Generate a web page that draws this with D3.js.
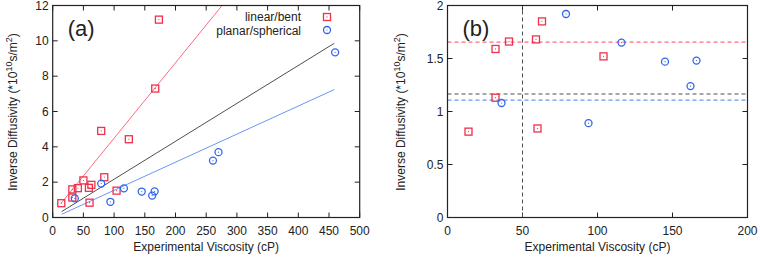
<!DOCTYPE html>
<html>
<head>
<meta charset="utf-8">
<script src="https://cdn.jsdelivr.net/npm/d3@7"></script>
<style>
  body { margin: 0; background: #fff; }
  svg text { font-family: "Liberation Sans", Arial, sans-serif; fill: #222; }
</style>
</head>
<body>
<div id="chart"></div>
<script>
// linear/bent molecules: [viscosity cP, inverse diffusivity]
const linearBent = [
  [14, 0.81], [32, 1.59], [41, 1.66], [59, 1.68], [63, 1.85], [32, 1.13], [60, 0.84],
  [104, 1.52], [50, 2.1], [84, 2.28], [79, 4.9], [124, 4.43], [167, 7.3], [173, 11.2]
];
// planar/spherical molecules
const planarSpherical = [
  [79, 1.92], [116, 1.65], [145, 1.47], [166, 1.48], [162, 1.24], [36, 1.08], [94, 0.89],
  [261, 3.22], [270, 3.7], [460, 9.35]
];
// fit lines in panel (a): slope, intercept, x range
const fits = [
  { name: "red", slope: 0.0427, intercept: 0.22, x0: 13.5, x1: 290 },
  { name: "black", slope: 0.02146, intercept: 0.02, x0: 14.6, x1: 458.6 },
  { name: "blue", slope: 0.0159, intercept: -0.05, x0: 14.6, x1: 458.6 }
];
// dashed reference lines in panel (b)
const hLines = [
  { name: "red", y: 1.655 },
  { name: "black", y: 1.165 },
  { name: "blue", y: 1.108 }
];
const vLine = 50;

const xTicksA = d3.range(0, 501, 50);
const yTicksA = d3.range(0, 13, 2);
const xTicksB = d3.range(0, 201, 50);
const yTicksB = [0, 0.5, 1, 1.5, 2];

const colors = {
  red: "#f0304c", redLine: "#ff6a80",
  blue: "#3366ee", blueLine: "#6a96f4",
  black: "#505050"
};

const svg = d3.select("#chart").append("svg")
  .attr("width", 760).attr("height", 258);

function panel(opts) {
  const x = d3.scaleLinear().domain(opts.xDomain).range(opts.xRange);
  const y = d3.scaleLinear().domain(opts.yDomain).range([217.5, 5.5]);
  const g = svg.append("g");
  const clipId = "clip" + opts.label;
  g.append("clipPath").attr("id", clipId).append("rect")
    .attr("x", opts.xRange[0]).attr("y", 5.5)
    .attr("width", opts.xRange[1] - opts.xRange[0]).attr("height", 212);

  // frame ticks: inward on all four sides
  const tl = 5;
  const xt = g.append("g").attr("stroke", "#222").attr("stroke-width", 1);
  opts.xTicks.forEach(t => {
    xt.append("line").attr("x1", x(t)).attr("x2", x(t)).attr("y1", 217.5).attr("y2", 217.5 - tl);
    xt.append("line").attr("x1", x(t)).attr("x2", x(t)).attr("y1", 5.5).attr("y2", 5.5 + tl);
  });
  opts.yTicks.forEach(t => {
    xt.append("line").attr("x1", opts.xRange[0]).attr("x2", opts.xRange[0] + tl).attr("y1", y(t)).attr("y2", y(t));
    xt.append("line").attr("x1", opts.xRange[1]).attr("x2", opts.xRange[1] - tl).attr("y1", y(t)).attr("y2", y(t));
  });

  g.selectAll(".xl").data(opts.xTicks).enter().append("text")
    .attr("x", d => x(d)).attr("y", 235).attr("text-anchor", "middle")
    .style("font-size", "12px").text(d => d);
  g.selectAll(".yl").data(opts.yTicks).enter().append("text")
    .attr("x", opts.xRange[0] - 4).attr("y", d => y(d) + 4.3).attr("text-anchor", "end")
    .style("font-size", "12px").text(d => d);

  g.append("text")
    .attr("x", (opts.xRange[0] + opts.xRange[1]) / 2).attr("y", 251)
    .attr("text-anchor", "middle").style("font-size", "12px")
    .text("Experimental Viscosity (cP)");

  const yt = g.append("text")
    .attr("transform", `translate(${opts.yTitleX},112) rotate(-90)`)
    .attr("text-anchor", "middle").style("font-size", "12px");
  yt.append("tspan").text("Inverse Diffusivity (*10");
  yt.append("tspan").attr("dy", -5).style("font-size", "9px").text("10");
  yt.append("tspan").attr("dy", 5).text("s/m");
  yt.append("tspan").attr("dy", -5).style("font-size", "9px").text("2");
  yt.append("tspan").attr("dy", 5).text(")");

  g.append("text")
    .attr("x", opts.xRange[0] + 15).attr("y", 36)
    .style("font-size", "22px").text("(" + opts.label + ")");

  return { g, x, y, clipId };
}

function squares(g, data, x, y) {
  g.selectAll(null).data(data).enter().append("rect")
    .attr("x", d => x(d[0]) - 3.5).attr("y", d => y(d[1]) - 3.5)
    .attr("width", 7).attr("height", 7)
    .attr("fill", "none").attr("stroke", colors.red).attr("stroke-width", 1.3);
  g.selectAll(null).data(data).enter().append("rect")
    .attr("x", d => x(d[0]) - 0.5).attr("y", d => y(d[1]) - 0.5)
    .attr("width", 1).attr("height", 1).attr("fill", colors.red);
}
function circles(g, data, x, y) {
  g.selectAll(null).data(data).enter().append("circle")
    .attr("cx", d => x(d[0])).attr("cy", d => y(d[1])).attr("r", 3.5)
    .attr("fill", "none").attr("stroke", colors.blue).attr("stroke-width", 1.3);
  g.selectAll(null).data(data).enter().append("circle")
    .attr("cx", d => x(d[0])).attr("cy", d => y(d[1])).attr("r", 0.6)
    .attr("fill", colors.blue);
}

// Panel (a)
const a = panel({ label: "a", xDomain: [0, 500], xRange: [52.7, 359.7], yDomain: [0, 12],
  xTicks: xTicksA, yTicks: yTicksA, yTitleX: 17 });
const lineColor = { red: colors.redLine, black: colors.black, blue: colors.blueLine };
const fitG = a.g.append("g").attr("clip-path", `url(#${a.clipId})`);
fits.forEach(f => {
  fitG.append("line")
    .attr("x1", a.x(f.x0)).attr("y1", a.y(f.slope * f.x0 + f.intercept))
    .attr("x2", a.x(f.x1)).attr("y2", a.y(f.slope * f.x1 + f.intercept))
    .attr("stroke", lineColor[f.name]).attr("stroke-width", 1);
});
squares(a.g, linearBent, a.x, a.y);
circles(a.g, planarSpherical, a.x, a.y);

// legend
a.g.append("text").attr("x", 301).attr("y", 21).attr("text-anchor", "end")
  .style("font-size", "12px").text("linear/bent");
a.g.append("text").attr("x", 301).attr("y", 35).attr("text-anchor", "end")
  .style("font-size", "12px").text("planar/spherical");
a.g.append("rect").attr("x", 323.5).attr("y", 13.5).attr("width", 7).attr("height", 7)
  .attr("fill", "none").attr("stroke", colors.red).attr("stroke-width", 1.3);
a.g.append("rect").attr("x", 326.5).attr("y", 16.5).attr("width", 1).attr("height", 1).attr("fill", colors.red);
a.g.append("circle").attr("cx", 327).attr("cy", 30).attr("r", 3.5)
  .attr("fill", "none").attr("stroke", colors.blue).attr("stroke-width", 1.3);
a.g.append("circle").attr("cx", 327).attr("cy", 30).attr("r", 0.6).attr("fill", colors.blue);

// Panel (b)
const b = panel({ label: "b", xDomain: [0, 200], xRange: [447.5, 747.5], yDomain: [0, 2],
  xTicks: xTicksB, yTicks: yTicksB, yTitleX: 405 });
const dashG = b.g.append("g").attr("clip-path", `url(#${b.clipId})`);
hLines.forEach(h => {
  dashG.append("line")
    .attr("x1", b.x(0)).attr("x2", b.x(200)).attr("y1", b.y(h.y)).attr("y2", b.y(h.y))
    .attr("stroke", lineColor[h.name]).attr("stroke-width", 1.2).attr("stroke-dasharray", "4,3");
});
dashG.append("line")
  .attr("x1", b.x(vLine)).attr("x2", b.x(vLine)).attr("y1", b.y(0)).attr("y2", b.y(2))
  .attr("stroke", colors.black).attr("stroke-width", 1).attr("stroke-dasharray", "4,3");
const inB = d => d[0] <= 200 && d[1] <= 2;
squares(b.g, linearBent.filter(inB), b.x, b.y);
circles(b.g, planarSpherical.filter(inB), b.x, b.y);

// frames on top
[[52.7, 359.7], [447.5, 747.5]].forEach(r => {
  svg.append("rect").attr("x", r[0]).attr("y", 5.5).attr("width", r[1] - r[0]).attr("height", 212)
    .attr("fill", "none").attr("stroke", "#222").attr("stroke-width", 1.2);
});
</script>
</body>
</html>
